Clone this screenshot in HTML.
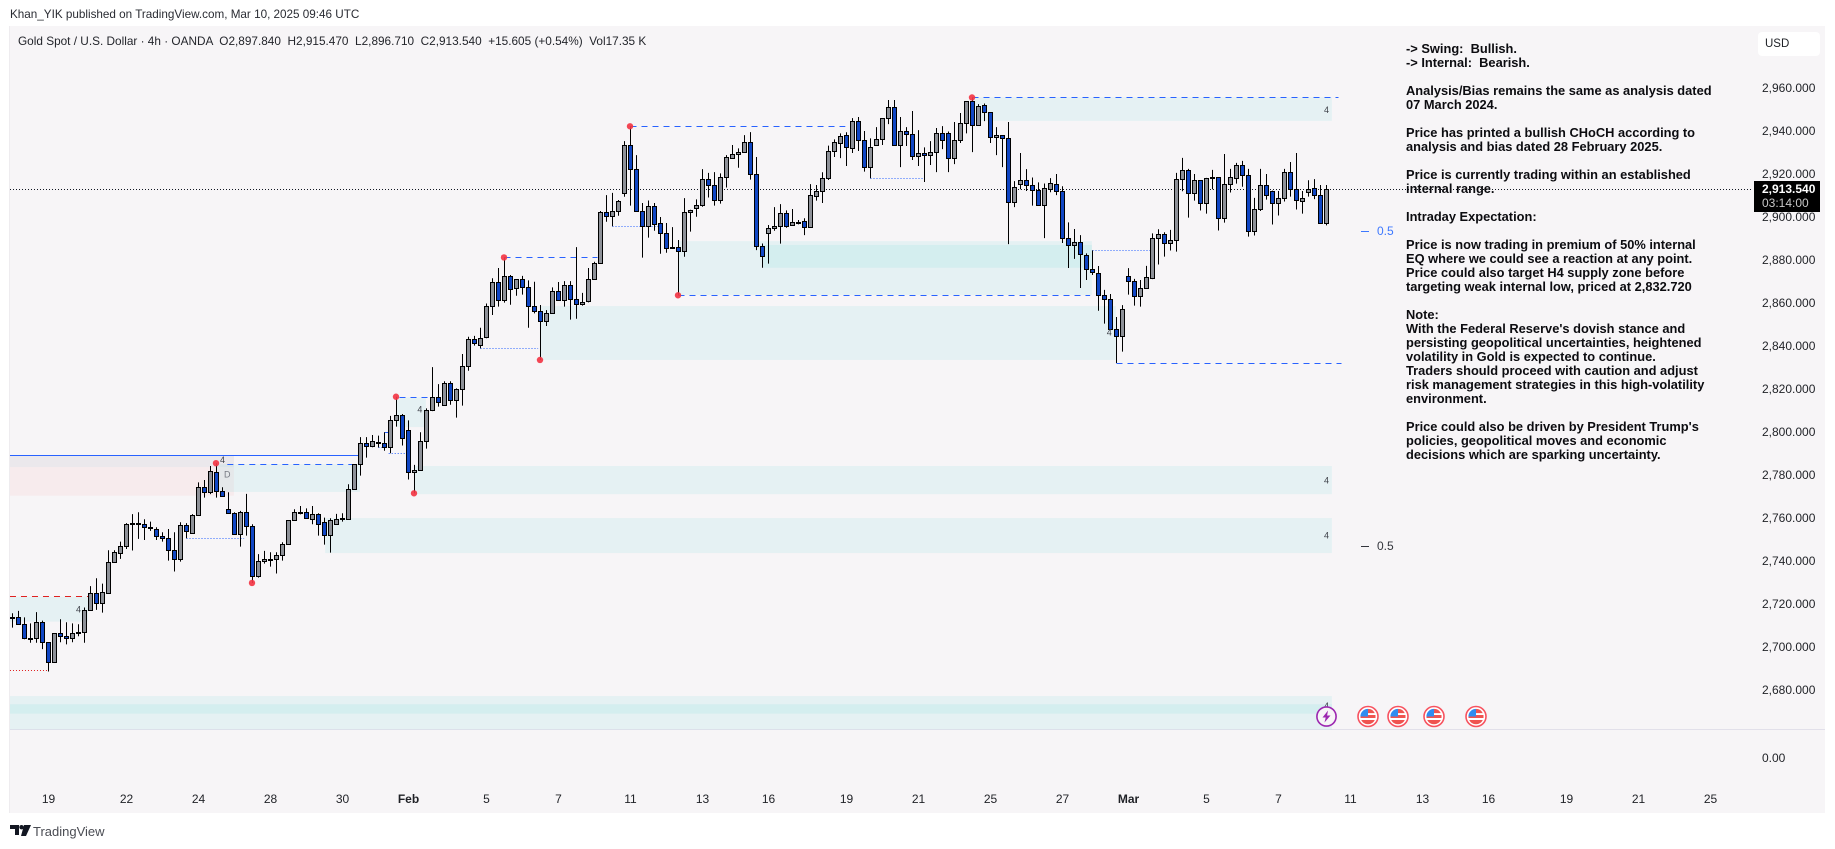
<!DOCTYPE html>
<html lang="en">
<head>
<meta charset="utf-8">
<title>Gold Spot / U.S. Dollar chart</title>
<style>
html,body{margin:0;padding:0;background:#fff;}
body{width:1835px;height:849px;position:relative;overflow:hidden;font-family:"Liberation Sans",sans-serif;color:#1a1c22;}
.abs{position:absolute;white-space:pre;}
#chart-panel{position:absolute;left:9px;top:26px;width:1816px;height:787px;background:#f7f5f7;border-left:1px solid #eeecef;box-sizing:border-box;}
#plot{position:absolute;left:0;top:0;}
.axis-price{position:absolute;left:1762px;font-size:12px;line-height:14px;color:#1f2126;}
.axis-time{position:absolute;top:792px;font-size:12px;line-height:15px;color:#1f2126;transform:translateX(-50%);}
#analysis-note{position:absolute;left:1406px;top:42px;font-size:12.85px;line-height:14px;font-weight:bold;color:#0c0c10;white-space:pre;}
</style>
</head>
<body>
<div class="abs" style="left:10px;top:7px;font-size:11.7px;line-height:16px;color:#2a2c33;">Khan_YIK published on TradingView.com, Mar 10, 2025 09:46 UTC</div>
<div id="chart-panel"></div>
<svg id="plot" width="1835" height="849" viewBox="0 0 1835 849" xmlns="http://www.w3.org/2000/svg"></svg>
<div class="abs" style="left:18px;top:34px;font-size:11.8px;line-height:15px;color:#23252b;">Gold Spot / U.S. Dollar · 4h · OANDA  O2,897.840  H2,915.470  L2,896.710  C2,913.540  +15.605 (+0.54%)  Vol17.35 K</div>
<div id="analysis-note">-&gt; Swing:  Bullish.
-&gt; Internal:  Bearish.

Analysis/Bias remains the same as analysis dated
07 March 2024.

Price has printed a bullish CHoCH according to
analysis and bias dated 28 February 2025.

Price is currently trading within an established
internal range.

Intraday Expectation:

Price is now trading in premium of 50% internal
EQ where we could see a reaction at any point.
Price could also target H4 supply zone before
targeting weak internal low, priced at 2,832.720

Note:
With the Federal Reserve's dovish stance and
persisting geopolitical uncertainties, heightened
volatility in Gold is expected to continue.
Traders should proceed with caution and adjust
risk management strategies in this high-volatility
environment.

Price could also be driven by President Trump's
policies, geopolitical moves and economic
decisions which are sparking uncertainty.</div>
<div style="position:absolute;left:1758px;top:32px;width:62px;height:24px;background:#fff;border-radius:4px;font-size:11.5px;line-height:24px;text-indent:7px;color:#1f2126;">USD</div>
<div id="price-axis"></div>
<div id="time-axis"></div>
<div class="axis-price" style="top:751px;">0.00</div>
<div style="position:absolute;left:1754px;top:181px;width:66px;height:31px;background:#000;">
  <div class="abs" style="left:8px;top:1px;font-size:12px;line-height:14px;font-weight:bold;color:#fff;">2,913.540</div>
  <div class="abs" style="left:8px;top:15px;font-size:12px;line-height:14px;color:#c8c8c8;">03:14:00</div>
</div>
<svg style="position:absolute;left:10px;top:825px;" width="21" height="12" viewBox="0 0 21 12" xmlns="http://www.w3.org/2000/svg">
  <path d="M0 0H9V10H5V4H0Z M14 0H21L16 11H11Z" fill="#131722"/><circle cx="11.5" cy="2.2" r="2.2" fill="#131722"/>
</svg>
<div class="abs" style="left:33px;top:823px;font-size:13px;line-height:17px;color:#4a4c53;">TradingView</div>
<script>
// Candle series (4h bars, USD)
const opens = [
2714.4,2714.4,2711.2,2704.7,2704.7,2712.1,2702.8,2693.5,2707.0,2705.6,
2704.7,2707.3,2707.5,2717.7,2725.6,2721.0,2725.9,2740.0,2744.2,2747.5,
2757.8,2758.2,2757.7,2756.0,2755.4,2752.1,2751.5,2745.6,2741.4,2757.2,
2753.5,2761.9,2774.9,2772.6,2781.9,2773.1,2764.7,2762.8,2753.1,2763.3,
2756.8,2733.4,2740.5,2741.1,2741.4,2743.3,2748.4,2759.5,2763.3,2763.3,
2760.3,2762.4,2758.6,2752.6,2758.0,2760.2,2760.3,2774.0,2785.6,2795.4,
2794.0,2795.4,2795.3,2793.5,2806.0,2808.4,2801.4,2781.9,2782.8,2796.3,
2810.7,2816.7,2813.0,2823.3,2815.3,2820.5,2831.2,2843.7,2840.9,2844.6,
2859.1,2870.2,2861.8,2873.0,2867.4,2871.6,2867.9,2859.1,2856.7,2852.1,
2855.8,2866.0,2861.8,2868.8,2862.3,2860.0,2861.4,2871.6,2879.0,2902.8,
2900.9,2903.2,2911.6,2933.9,2922.8,2903.2,2896.3,2905.6,2897.6,2893.0,
2886.2,2886.5,2884.6,2902.8,2904.6,2906.0,2918.1,2915.3,2908.3,2919.0,
2927.9,2929.7,2930.7,2935.3,2920.4,2887.0,2893.0,2895.3,2896.3,2902.3,
2896.7,2898.0,2898.6,2895.8,2910.5,2912.5,2918.6,2931.1,2934.8,2938.6,
2932.5,2945.1,2936.2,2923.7,2933.9,2936.7,2946.5,2951.6,2933.9,2940.4,
2939.0,2928.8,2930.2,2929.3,2930.7,2939.5,2939.5,2927.9,2936.2,2944.1,
2954.4,2943.2,2952.5,2949.3,2937.6,2938.6,2937.2,2907.4,2915.8,2917.6,
2915.3,2913.0,2906.0,2913.5,2915.8,2912.5,2890.7,2887.4,2888.8,2882.8,
2876.3,2874.4,2864.2,2862.4,2848.4,2845.2,2873.1,2870.7,2863.8,2867.5,
2872.1,2890.7,2892.6,2888.4,2889.8,2918.2,2922.3,2911.6,2917.7,2907.0,
2918.9,2919.1,2900.0,2915.8,2918.6,2924.7,2920.0,2894.0,2904.2,2915.4,
2912.6,2907.0,2909.3,2921.4,2913.5,2907.9,2912.1,2914.0,2910.7,2897.84];
const highs = [
2716.3,2717.4,2714.4,2711.6,2716.8,2712.9,2702.8,2707.0,2713.5,2712.1,
2711.6,2711.2,2719.0,2728.9,2732.6,2730.1,2745.6,2745.6,2749.6,2758.2,
2762.4,2763.3,2760.0,2758.9,2756.3,2754.0,2755.5,2754.0,2758.6,2758.2,
2762.4,2777.2,2778.3,2784.8,2786.1,2774.9,2772.6,2763.3,2763.9,2771.8,
2757.7,2743.8,2745.3,2744.7,2744.7,2749.3,2759.7,2764.7,2766.2,2765.1,
2766.2,2762.8,2760.8,2760.5,2762.5,2762.8,2776.3,2785.6,2798.2,2798.2,
2799.2,2798.9,2800.5,2808.1,2817.0,2809.0,2806.0,2785.3,2800.5,2811.6,
2830.8,2822.9,2824.2,2824.2,2820.9,2836.9,2844.9,2845.3,2849.1,2860.4,
2872.1,2876.9,2881.8,2873.6,2871.6,2873.2,2871.1,2870.5,2859.7,2857.3,
2867.9,2870.4,2870.8,2870.8,2886.6,2865.3,2876.9,2879.8,2903.4,2910.8,
2911.8,2908.5,2935.9,2942.8,2929.4,2907.1,2908.3,2907.1,2900.6,2897.8,
2895.9,2889.9,2909.4,2904.0,2908.8,2922.9,2921.1,2921.5,2920.9,2929.4,
2934.1,2932.5,2938.7,2940.1,2928.5,2888.3,2896.9,2905.2,2906.6,2903.7,
2904.3,2899.2,2900.0,2915.9,2915.5,2921.4,2933.8,2936.7,2939.5,2940.0,
2946.6,2947.1,2940.6,2937.2,2942.4,2946.5,2955.0,2955.0,2947.1,2942.4,
2949.9,2941.0,2933.0,2935.9,2942.0,2942.9,2940.4,2944.8,2949.0,2954.4,
2956.2,2953.1,2953.4,2949.3,2942.4,2938.7,2944.8,2917.3,2930.4,2922.9,
2919.0,2916.7,2916.2,2918.7,2920.6,2914.9,2898.1,2895.0,2892.2,2883.7,
2885.1,2877.8,2866.7,2864.8,2854.1,2859.6,2876.8,2871.8,2871.3,2877.9,
2893.0,2894.9,2893.5,2894.6,2921.1,2928.1,2923.0,2920.6,2917.8,2918.8,
2922.5,2919.2,2929.9,2923.0,2925.8,2926.7,2923.0,2909.5,2923.0,2920.6,
2912.9,2912.7,2923.0,2926.2,2930.4,2912.7,2917.7,2918.2,2915.5,2915.47];
const lows = [
2709.6,2710.9,2704.2,2702.6,2702.6,2699.6,2689.2,2693.5,2702.8,2701.8,
2702.8,2705.6,2702.6,2717.7,2717.9,2716.6,2725.6,2740.0,2741.6,2746.2,
2745.5,2750.9,2750.4,2754.6,2750.4,2749.6,2740.8,2735.7,2740.3,2751.2,
2753.5,2761.7,2770.1,2771.7,2770.1,2770.6,2762.8,2753.1,2747.3,2752.4,
2730.4,2732.9,2739.4,2738.0,2734.8,2740.8,2748.4,2759.5,2762.3,2760.3,
2757.7,2752.4,2748.2,2744.5,2758.0,2758.9,2760.3,2774.0,2780.3,2788.7,
2793.5,2793.4,2791.9,2790.7,2803.1,2794.3,2778.5,2772.1,2782.8,2792.9,
2810.3,2812.4,2812.9,2813.3,2807.3,2812.9,2829.1,2840.8,2839.5,2844.2,
2855.0,2858.9,2860.8,2859.8,2864.0,2864.5,2849.1,2855.8,2834.1,2849.9,
2855.8,2861.8,2858.9,2852.9,2853.3,2859.4,2860.9,2871.6,2879.0,2898.4,
2896.3,2901.2,2910.0,2905.9,2903.1,2881.7,2891.0,2894.2,2883.5,2884.0,
2886.0,2864.2,2882.1,2893.8,2900.7,2905.4,2909.7,2905.9,2906.8,2914.3,
2927.9,2923.5,2930.7,2918.0,2885.2,2877.0,2878.9,2894.2,2888.2,2895.6,
2896.6,2897.2,2892.2,2895.8,2908.2,2907.1,2917.8,2928.5,2928.0,2924.3,
2930.4,2931.3,2921.7,2918.6,2933.9,2934.1,2943.8,2933.9,2923.8,2933.6,
2927.1,2924.3,2916.9,2924.8,2921.5,2932.2,2921.5,2925.2,2935.0,2939.5,
2930.8,2943.2,2945.2,2935.0,2929.4,2923.8,2888.0,2905.2,2913.5,2912.7,
2905.9,2905.9,2890.8,2912.1,2910.8,2888.5,2876.9,2881.1,2867.6,2871.3,
2873.6,2857.0,2851.0,2848.1,2832.72,2838.0,2864.5,2859.4,2858.9,2867.5,
2871.7,2878.5,2882.2,2885.0,2884.5,2912.6,2900.3,2908.2,2903.6,2902.2,
2913.5,2894.3,2898.0,2912.0,2916.1,2914.7,2891.5,2892.0,2903.4,2908.7,
2897.1,2901.3,2907.8,2910.1,2904.1,2902.2,2910.1,2908.9,2897.7,2896.71];
const closes = [
2714.0,2711.2,2704.7,2705.0,2712.1,2702.8,2693.5,2707.0,2705.6,2704.7,
2707.0,2707.6,2717.7,2725.6,2721.0,2726.1,2740.0,2744.7,2747.5,2757.7,
2758.2,2757.7,2756.3,2756.3,2752.1,2751.5,2745.6,2741.4,2757.2,2754.4,
2761.9,2774.9,2772.6,2782.4,2773.1,2770.7,2762.8,2753.1,2763.3,2756.8,
2733.4,2740.5,2741.4,2741.4,2743.3,2748.4,2759.5,2763.3,2762.7,2760.5,
2762.4,2758.0,2752.6,2759.5,2760.0,2760.5,2774.0,2785.6,2795.4,2794.0,
2796.3,2795.8,2793.5,2806.0,2808.4,2797.7,2781.9,2782.8,2796.3,2810.7,
2816.7,2814.4,2823.3,2815.3,2820.5,2831.2,2843.7,2841.8,2844.2,2859.1,
2870.2,2861.8,2873.0,2867.0,2871.6,2867.9,2859.1,2856.7,2852.1,2855.8,
2866.0,2861.8,2868.8,2862.3,2860.0,2860.9,2871.6,2879.0,2902.8,2900.9,
2903.2,2907.9,2933.9,2922.8,2903.2,2896.3,2905.6,2897.2,2893.0,2886.0,
2886.5,2884.6,2902.8,2903.7,2906.0,2918.1,2915.3,2908.3,2919.0,2928.3,
2929.7,2930.7,2935.3,2920.4,2887.0,2882.3,2895.3,2896.3,2902.3,2896.6,
2898.1,2898.1,2895.8,2910.7,2912.5,2918.6,2931.1,2935.3,2938.1,2933.0,
2945.1,2936.2,2923.7,2933.0,2936.7,2946.5,2951.6,2933.9,2940.4,2939.0,
2928.8,2930.2,2929.3,2930.7,2939.5,2936.2,2927.9,2936.2,2944.1,2954.4,
2943.2,2952.1,2949.3,2937.6,2938.6,2937.2,2907.4,2914.7,2917.6,2915.3,
2913.0,2906.0,2913.9,2916.2,2912.5,2890.7,2887.4,2888.8,2883.2,2876.6,
2874.9,2864.2,2862.4,2848.4,2845.2,2857.7,2870.7,2863.8,2867.5,2872.6,
2890.7,2892.6,2888.4,2889.8,2918.2,2922.3,2911.6,2917.7,2907.0,2918.6,
2919.1,2900.0,2915.8,2919.1,2924.7,2920.0,2894.0,2904.2,2915.4,2910.7,
2907.0,2909.3,2921.4,2913.5,2908.4,2909.3,2913.5,2910.7,2897.7,2913.54];

// Axis labels
const priceTicks = [2960,2940,2920,2900,2880,2860,2840,2820,2800,2780,2760,2740,2720,2700,2680];
const timeTickLabels = ['19','22','24','28','30','Feb','5','7','11','13','16','19','21','25','27','Mar','5','7','11','13','16','19','21','25'];
const timeTickBars = [6,19,31,43,55,66,79,91,103,115,126,139,151,163,175,186,199,211,223,235,246,259,271,283];

// Last traded price
const lastPrice = 2913.54;

// Structure markers: bar index and whether the dot sits on its high or low
const swingBars = [34,40,64,67,82,88,103,111,160];
const swingSides = ['H','L','H','L','H','L','H','L','H'];

// Zones: bar range and price range
const zoneNames = ['zone-h4-supply','zone-b','zone-c','zone-d','zone-e','zone-f','zone-g','zone-top-band','zone-i','zone-bottom','zone-bottom-inner','zone-k'];
const zoneStartBars = [160,111.1,125.1,87.9,66.9,52.1,34.1,-0.42,-0.42,-0.42,-0.42,64.1];
const zoneEndBars = [219.9,179.9,179.9,183.9,219.9,219.9,57.9,36.9,12.6,219.9,219.9,68.9];
const zoneHighs = [2956.3,2889.4,2887.6,2859.2,2784.8,2760.6,2785.6,2789.8,2724.0,2677.8,2674.0,2816.7];
const zoneLows = [2945.3,2864.3,2877.0,2834.1,2771.7,2744.3,2772.7,2784.3,2712.4,2662.3,2669.6,2802.9];
const redZoneRange = [-0.42,36.9,2789.8,2771.0];

// Structure lines: bar range, price, kind
const lineStartBars = [-0.42,35.8,-0.42,-0.42,29,64.5,82,103,160,111,184,78,100,143,180,62.7,61,62];
const lineEndBars = [57.6,56.8,12.6,6,38.6,69.5,97.5,138.8,221,179.6,221.5,87.6,108,151.7,189.6,65.4,62,63];
const linePrices = [2789.8,2785.6,2724.2,2689.8,2751.2,2816.7,2881.9,2942.8,2956.3,2864.2,2832.6,2839.5,2896.3,2918.6,2885.1,2790.7,2793.6,2800.6];
const lineKinds = ['solid','dash','reddash','reddot','dot','dash','dash','dash','dash','dash','dash','dot','dot','dot','dot','dot','dot','solid'];

// Small timeframe tags: text, bar, price
const tagTexts = ['4','4','4','4','4','4','4','D','4'];
const tagBars = [219,219,219,11,67.9,35,219,35.8,182.8];
const tagPrices = [2950.4,2778.0,2752.4,2718.0,2811.0,2787.6,2673.2,2780.8,2846.8];

// Calendar events
const lightningBars = [219];
const flagBars = [226,231,237,244];

const SVGNS = 'http://www.w3.org/2000/svg';
const plot = document.getElementById('plot');
const xScale = b => 12.5 + 6 * b;
const yScale = p => 89.3 + (2960 - p) * 2.15;
const PANE_RIGHT = 1825;

function svgEl(tag, attrs, parent) {
  const el = document.createElementNS(SVGNS, tag);
  for (const k in attrs) el.setAttribute(k, attrs[k]);
  (parent || plot).appendChild(el);
  return el;
}

// volume pane divider
const divider = svgEl('line', {x1:10, x2:PANE_RIGHT, y1:729.5, y2:729.5, stroke:'#e2e0ea', 'stroke-width':1});



// red zone
const redZone = svgEl('rect', {
  x: xScale(redZoneRange[0]), width: xScale(redZoneRange[1]) - xScale(redZoneRange[0]),
  y: yScale(redZoneRange[2]), height: yScale(redZoneRange[3]) - yScale(redZoneRange[2]),
  fill: 'rgb(255,80,80)', 'fill-opacity': 0.06});



// teal zones
zoneNames.forEach((name, i) => {
  const band = name === 'zone-top-band';
  const r = svgEl('rect', {
    x: xScale(zoneStartBars[i]), width: xScale(zoneEndBars[i]) - xScale(zoneStartBars[i]),
    y: yScale(zoneHighs[i]), height: yScale(zoneLows[i]) - yScale(zoneHighs[i]),
    fill: band ? 'rgb(40,180,220)' : 'rgb(0,200,200)', 'fill-opacity': band ? 0.055 : 0.07});
  
  
});

// last price dotted line
const priceLine = svgEl('line', {x1:10, x2:1752, y1:Math.round(yScale(lastPrice)) + 0.5, y2:Math.round(yScale(lastPrice)) + 0.5, stroke:'#131722', 'stroke-width':1, 'stroke-dasharray':'1 2'});



// structure lines
const lineStyles = {
  solid: {stroke:'#2962ff', dash:''},
  dash: {stroke:'#2962ff', dash:'6 5'},
  dot: {stroke:'#2962ff', dash:'1 2'},
  reddash: {stroke:'#e02020', dash:'6 5'},
  reddot: {stroke:'#e02020', dash:'1 2'}
};
linePrices.forEach((p, i) => {
  const st = lineStyles[lineKinds[i]];
  const y = Math.round(yScale(p)) + 0.5;
  const l = svgEl('line', {x1:xScale(lineStartBars[i]), x2:xScale(lineEndBars[i]), y1:y, y2:y, stroke:st.stroke, 'stroke-width':1});
  if (st.dash) l.setAttribute('stroke-dasharray', st.dash);
  
  
});

// candles
opens.forEach((o, i) => {
  const c = closes[i];
  const cx = xScale(i);
  const g = svgEl('g', {});
  
  
  svgEl('line', {x1:cx, x2:cx, y1:yScale(highs[i]), y2:yScale(lows[i]), stroke:'#000', 'stroke-width':1}, g);
  const top = Math.round(yScale(Math.max(o, c))) + 0.5;
  let bot = Math.round(yScale(Math.min(o, c))) + 0.5;
  if (bot - top < 1) bot = top + 1;
  svgEl('rect', {x:cx - 2, y:top, width:4, height:bot - top, fill: c >= o ? '#8e9198' : '#1046c4', stroke:'#000', 'stroke-width':1}, g);
});

// swing dots
swingBars.forEach((b, i) => {
  const p = swingSides[i] === 'H' ? highs[b] : lows[b];
  const d = svgEl('circle', {cx:xScale(b) - 0.5, cy:yScale(p), r:3.2, fill:'#f23645', 'fill-opacity':0.92});
  
  
});

// timeframe tags
tagTexts.forEach((t, i) => {
  const el = svgEl('text', {x:xScale(tagBars[i]), y:yScale(tagPrices[i]) + 3, 'font-size':9, 'text-anchor':'middle', fill: t === 'D' ? '#777a83' : '#3c3f47', 'font-family':'"Liberation Sans", sans-serif'});
  el.textContent = t;
  
  
});

// 0.5 equilibrium labels
const eqDash1 = svgEl('line', {x1:1361, x2:1369, y1:231.5, y2:231.5, stroke:'#3d78ff', 'stroke-width':1});


const eqText1 = svgEl('text', {x:1377, y:235, 'font-size':12, fill:'#3d78ff', 'font-family':'"Liberation Sans", sans-serif'});
eqText1.textContent = '0.5';


const eqDash2 = svgEl('line', {x1:1361, x2:1369, y1:546.5, y2:546.5, stroke:'#33353c', 'stroke-width':1});


const eqText2 = svgEl('text', {x:1377, y:550, 'font-size':12, fill:'#33353c', 'font-family':'"Liberation Sans", sans-serif'});
eqText2.textContent = '0.5';



// event icons
const EVENT_Y = 716.5;
lightningBars.forEach(b => {
  const cx = xScale(b);
  const g = svgEl('g', {transform:'translate(' + cx + ',' + EVENT_Y + ')'});
  
  
  svgEl('circle', {r:9.6, fill:'#f7f5f7', stroke:'#9c27b0', 'stroke-width':1.6}, g);
  svgEl('path', {d:'M1.5,-6 L-4,1 L-0.8,1 L-2,6 L4,-1 L0.6,-1 Z', fill:'#9c27b0'}, g);
});
flagBars.forEach(b => {
  const cx = xScale(b) - 0.5;
  const g = svgEl('g', {transform:'translate(' + cx + ',' + EVENT_Y + ')'});
  
  
  svgEl('circle', {r:10, fill:'#fff', stroke:'#f7525f', 'stroke-width':1.6}, g);
  svgEl('path', {d:'M-7.5,-1.5 H7.5 V1.5 H-7.5 Z M-7.5,3.5 H6.8 A7.6,7.6 0 0 1 -6.8,3.5 Z M0,-7.6 A7.6,7.6 0 0 1 6.8,-3.4 H0 Z', fill:'#ef5350'}, g);
  svgEl('path', {d:'M-7.6,0 A7.6,7.6 0 0 1 0,-7.6 V0 Z', fill:'#2f8cf0'}, g);
});

// axes
const priceAxis = document.getElementById('price-axis');
priceTicks.forEach(p => {
  const el = document.createElement('div');
  el.className = 'axis-price';
  el.style.top = (yScale(p) - 8) + 'px';
  el.textContent = p.toLocaleString('en-US') + '.000';
  
  
  priceAxis.appendChild(el);
});
const timeAxis = document.getElementById('time-axis');
timeTickLabels.forEach((t, i) => {
  const el = document.createElement('div');
  el.className = 'axis-time';
  el.style.left = xScale(timeTickBars[i]) + 'px';
  if (t === 'Feb' || t === 'Mar') el.style.fontWeight = 'bold';
  el.textContent = t;
  
  
  timeAxis.appendChild(el);
});
</script>
</body>
</html>
